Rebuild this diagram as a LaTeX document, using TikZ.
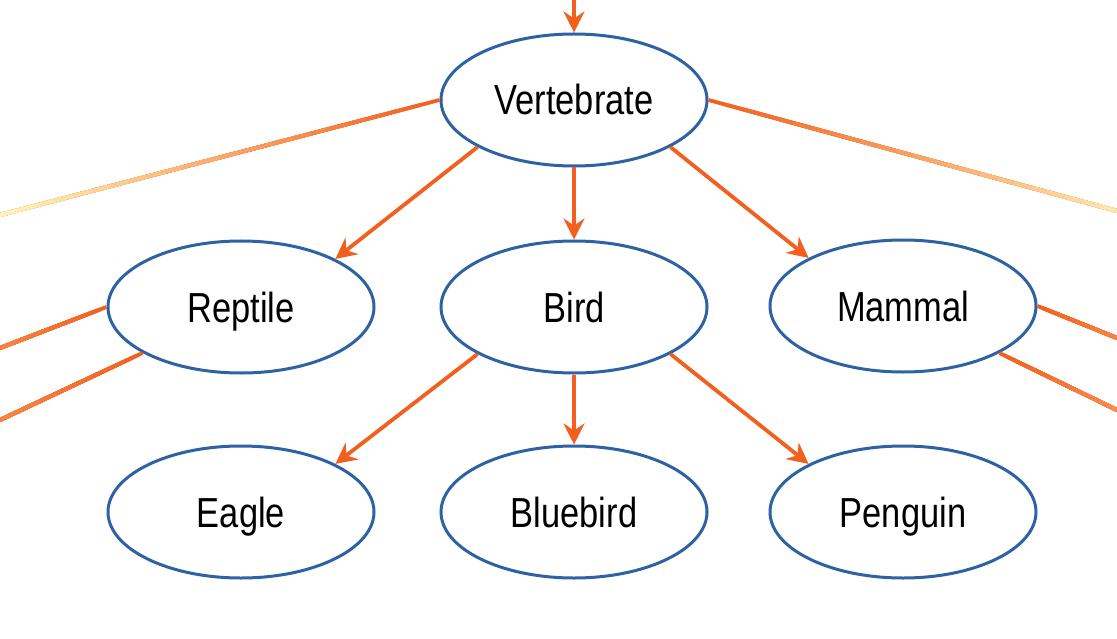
\documentclass[tikz,border=0pt]{standalone}
\usepackage{fontspec}
\newfontfamily\lblfont[FakeStretch=0.82]{Liberation Sans}
\usepackage{xcolor}
\usetikzlibrary{calc,shapes.geometric,arrows.meta}
\definecolor{edge}{HTML}{F2601F}
\definecolor{rim}{HTML}{2E62A3}
\definecolor{pale}{HTML}{FFF4B8}
\tikzset{
  taxon/.style={ellipse, draw=rim, line width=1.5pt, fill=white,
    minimum width=133pt, minimum height=66pt, inner sep=0pt,
    text height=15pt, text depth=0pt,
    font=\lblfont\fontsize{21}{22}\selectfont},
  link/.style={draw=edge, line width=1.9pt,
    -{Stealth[length=10.5pt,width=10.5pt,inset=3.5pt]}},
  side/.style={line width=1.9pt}
}

\begin{document}
\begin{tikzpicture}[x=0.5pt,y=0.5pt]
  \useasboundingbox[fill=white] (0,0) rectangle (1117,638);

  % tree levels
  \node[taxon] (V) at (574,538) {Vertebrate};
  \node[taxon] (R) at (241,331) {Reptile};
  \node[taxon] (B) at (574,331) {Bird};
  \node[taxon] (M) at (903,332) {Mammal};
  \node[taxon] (E) at (241,126) {Eagle};
  \node[taxon] (U) at (574,126) {Bluebird};
  \node[taxon] (P) at (903,126) {Penguin};

  % loose ends at the picture edge
  \coordinate (top) at (574,638);
  \coordinate (eVL) at (0,423);
  \coordinate (eVR) at (1117,427);
  \coordinate (eRa) at (0,290);
  \coordinate (eRb) at (0,218);
  \coordinate (eMa) at (1117,300);
  \coordinate (eMb) at (1117,228);

  % fading side lines, each step laid over the rest of the line
  \foreach \a/\b/\m in {V.west/eVL/0, V.east/eVR/10, R.west/eRa/75,
                        R.205/eRb/75, M.east/eMa/75, M.334/eMb/70}
    \foreach \i in {0,...,23} {
      \pgfmathsetmacro\fpos{\i/24}
      \pgfmathsetmacro\fmix{100-\i*(100-\m)/23}
      \draw[side, draw=edge!\fmix!pale] ($(\a)!\fpos!(\b)$) -- (\b);
    }

  \draw[link] (top) -- (V.north);
  \draw[link] (V.206) -- (R.27);
  \draw[link] (V.south) -- (B.north);
  \draw[link] (V.334) -- (M.153);
  \draw[link] (B.206) -- (E.27);
  \draw[link] (B.south) -- (U.north);
  \draw[link] (B.334) -- (P.153);
\end{tikzpicture}
\end{document}
